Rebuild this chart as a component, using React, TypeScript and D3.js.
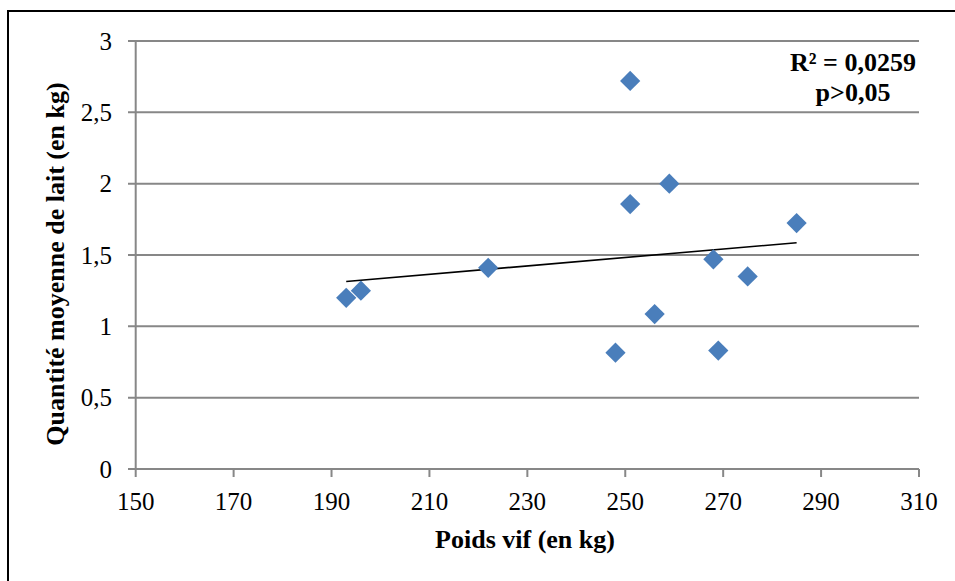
import { useEffect, useRef } from 'react';
import * as d3 from 'd3';

// poids vif (kg) and mean milk quantity (kg)
const poids = [193, 196, 222, 248, 251, 251, 256, 259, 268, 269, 275, 285];
const lait = [1.2, 1.25, 1.41, 0.815, 1.857, 2.72, 1.086, 2.0, 1.47, 0.83, 1.35, 1.724];
const xTicks = [150, 170, 190, 210, 230, 250, 270, 290, 310];
const yTicks = [0, 0.5, 1, 1.5, 2, 2.5, 3];
const statLines = ['R² = 0,0259', 'p>0,05'];

const fmt = (v: number) => String(v).replace('.', ',');

function App() {
  const ref = useRef<SVGSVGElement>(null);

  useEffect(() => {
    const svg = d3.select(ref.current);
    svg.selectAll('*').remove();

    const x = d3.scaleLinear().domain([150, 310]).range([135.7, 919]);
    const y = d3.scaleLinear().domain([0, 3]).range([469, 41]);
    const grey = '#878787';

    // outer frame, cut by the window on the right and bottom
    svg.append('rect')
      .attr('x', 8).attr('y', 11)
      .attr('width', 1000).attr('height', 700)
      .attr('fill', 'none').attr('stroke', '#000').attr('stroke-width', 2);

    // horizontal gridlines + y ticks
    svg.append('g').selectAll('line')
      .data(yTicks)
      .enter()
      .append('line')
      .attr('x1', 128).attr('x2', 919)
      .attr('y1', (d) => y(d)).attr('y2', (d) => y(d))
      .attr('stroke', grey).attr('stroke-width', 2);

    svg.append('g').selectAll('text')
      .data(yTicks)
      .enter()
      .append('text')
      .attr('x', 112)
      .attr('y', (d) => y(d))
      .attr('dy', '0.35em')
      .attr('text-anchor', 'end')
      .attr('font-size', 25)
      .text((d) => fmt(d));

    // y axis line
    svg.append('line')
      .attr('x1', x(150)).attr('x2', x(150))
      .attr('y1', y(3)).attr('y2', y(0))
      .attr('stroke', grey).attr('stroke-width', 2);

    // x ticks
    svg.append('g').selectAll('line')
      .data(xTicks)
      .enter()
      .append('line')
      .attr('x1', (d) => x(d)).attr('x2', (d) => x(d))
      .attr('y1', y(0)).attr('y2', y(0) + 8)
      .attr('stroke', grey).attr('stroke-width', 2);

    svg.append('g').selectAll('text')
      .data(xTicks)
      .enter()
      .append('text')
      .attr('x', (d) => x(d))
      .attr('y', 510)
      .attr('text-anchor', 'middle')
      .attr('font-size', 25)
      .text((d) => d);

    // least squares trendline
    const mx = d3.mean(poids) as number;
    const my = d3.mean(lait) as number;
    let sxy = 0;
    let sxx = 0;
    poids.forEach((p, i) => {
      sxy += (p - mx) * (lait[i] - my);
      sxx += (p - mx) * (p - mx);
    });
    const slope = sxy / sxx;
    const [x0, x1] = d3.extent(poids) as [number, number];
    const fit = (v: number) => my + slope * (v - mx);
    svg.append('line')
      .attr('x1', x(x0)).attr('y1', y(fit(x0)))
      .attr('x2', x(x1)).attr('y2', y(fit(x1)))
      .attr('stroke', '#000').attr('stroke-width', 1.6);

    // points
    const diamond = d3.symbol().type(d3.symbolSquare).size(205);
    svg.append('g').selectAll('path')
      .data(poids)
      .enter()
      .append('path')
      .attr('d', diamond)
      .attr('transform', (d, i) => `translate(${x(d)},${y(lait[i])}) rotate(45)`)
      .attr('fill', '#4a7ebb');

    // stats
    svg.append('g').selectAll('text')
      .data(statLines)
      .enter()
      .append('text')
      .attr('x', 853)
      .attr('y', (d, i) => 71 + i * 30)
      .attr('text-anchor', 'middle')
      .attr('font-size', 26).attr('font-weight', 'bold')
      .text((d) => d);

    // axis titles
    svg.append('text')
      .attr('x', 525).attr('y', 548)
      .attr('text-anchor', 'middle')
      .attr('font-size', 26).attr('font-weight', 'bold')
      .text('Poids vif (en kg)');

    svg.append('text')
      .attr('transform', 'translate(64,264) rotate(-90)')
      .attr('text-anchor', 'middle')
      .attr('font-size', 26).attr('font-weight', 'bold')
      .text('Quantité moyenne de lait (en kg)');
  }, []);

  return (
    <svg
      ref={ref}
      width={955}
      height={581}
      style={{
        position: 'absolute',
        left: 0,
        top: 0,
        background: '#fff',
        fontFamily: "'Liberation Serif', 'DejaVu Serif', serif",
      }}
    />
  );
}

export default App;
